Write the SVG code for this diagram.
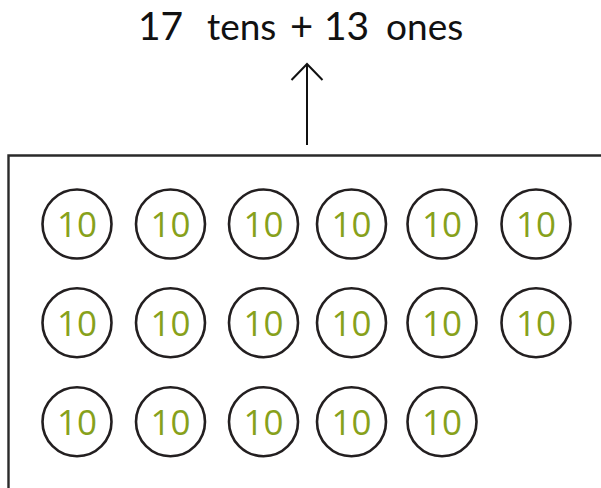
<svg xmlns="http://www.w3.org/2000/svg" width="601" height="488" viewBox="0 0 601 488">
<style>
.t{font-family:Lato,"Open Sans","Liberation Sans",sans-serif;fill:#111}
.big{font-size:39px}
.sm{font-size:37px}
.c{fill:none;stroke:#231f20;stroke-width:2.6}
.n{font-family:"Open Sans","Liberation Sans",sans-serif;font-size:35px;fill:#87a11b;text-anchor:middle}
</style>
<rect width="601" height="488" fill="#fff"/>
<g id="label">
<text class="t big" x="138" y="40">17</text>
<text class="t sm" x="207" y="40">tens</text>
<text class="t" x="301.5" y="41" font-size="40" text-anchor="middle">+</text>
<text class="t big" x="324" y="40">13</text>
<text class="t sm" x="386" y="40">ones</text>
</g>
<g id="box">
<path d="M8.5 488 V155.5 H601" fill="none" stroke="#2a2a2a" stroke-width="2.4"/>
</g>
<g id="connectors">
<path d="M307 145 V64 M291.5 80 L307 64 L322.5 80" fill="none" stroke="#111" stroke-width="2"/>
</g>
<g id="r1">
<g id="c1"><circle class="c" cx="77" cy="224" r="34.5"/><text class="n" x="77" y="237">10</text></g>
<g id="c2"><circle class="c" cx="170.5" cy="224" r="34.5"/><text class="n" x="170.5" y="237">10</text></g>
<g id="c3"><circle class="c" cx="263.5" cy="224" r="34.5"/><text class="n" x="263.5" y="237">10</text></g>
<g id="c4"><circle class="c" cx="351.5" cy="224" r="34.5"/><text class="n" x="351.5" y="237">10</text></g>
<g id="c5"><circle class="c" cx="442" cy="224" r="34.5"/><text class="n" x="442" y="237">10</text></g>
<g id="c6"><circle class="c" cx="536" cy="224" r="34.5"/><text class="n" x="536" y="237">10</text></g>
</g>
<g id="r2">
<g id="c7"><circle class="c" cx="77" cy="322.7" r="34.5"/><text class="n" x="77" y="335.7">10</text></g>
<g id="c8"><circle class="c" cx="170.5" cy="322.7" r="34.5"/><text class="n" x="170.5" y="335.7">10</text></g>
<g id="c9"><circle class="c" cx="263.5" cy="322.7" r="34.5"/><text class="n" x="263.5" y="335.7">10</text></g>
<g id="c10"><circle class="c" cx="351.5" cy="322.7" r="34.5"/><text class="n" x="351.5" y="335.7">10</text></g>
<g id="c11"><circle class="c" cx="442" cy="322.7" r="34.5"/><text class="n" x="442" y="335.7">10</text></g>
<g id="c12"><circle class="c" cx="536" cy="322.7" r="34.5"/><text class="n" x="536" y="335.7">10</text></g>
</g>
<g id="r3">
<g id="c13"><circle class="c" cx="77" cy="421.7" r="34.5"/><text class="n" x="77" y="434.7">10</text></g>
<g id="c14"><circle class="c" cx="170.5" cy="421.7" r="34.5"/><text class="n" x="170.5" y="434.7">10</text></g>
<g id="c15"><circle class="c" cx="263.5" cy="421.7" r="34.5"/><text class="n" x="263.5" y="434.7">10</text></g>
<g id="c16"><circle class="c" cx="351.5" cy="421.7" r="34.5"/><text class="n" x="351.5" y="434.7">10</text></g>
<g id="c17"><circle class="c" cx="442" cy="421.7" r="34.5"/><text class="n" x="442" y="434.7">10</text></g>
</g>
</svg>
